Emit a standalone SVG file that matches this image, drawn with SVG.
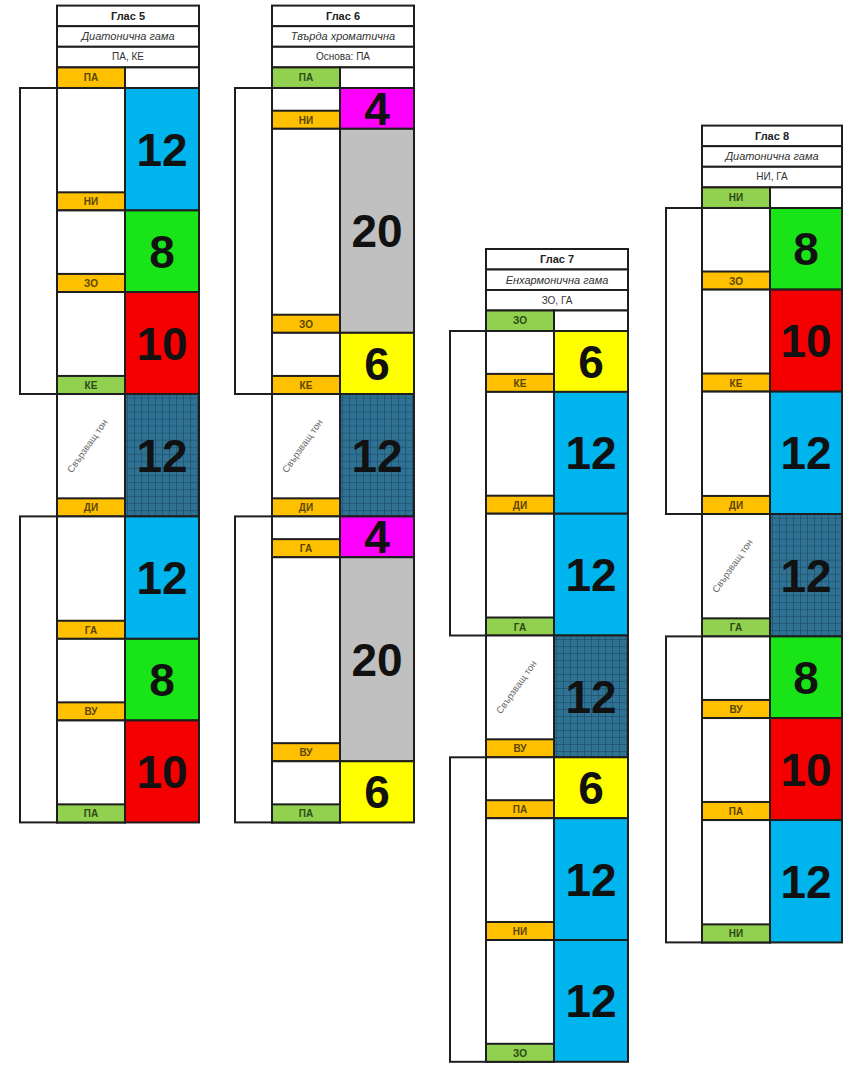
<svg xmlns="http://www.w3.org/2000/svg" width="851" height="1066" viewBox="0 0 851 1066">
<defs>
<pattern id="grid" width="7" height="7" patternUnits="userSpaceOnUse">
<rect width="7" height="7" fill="#2F7294" style="stroke:none"/>
<path d="M0 0.5H7M0.5 0V7" stroke="#1B4A64" stroke-opacity="0.75" stroke-width="0.8" fill="none"/>
</pattern>
<style>
rect{stroke:#1e1e1e;stroke-width:2}
.w{fill:#fff}
.lo{fill:#FFC000}
.lg{fill:#92D050}
.blue{fill:#00B4EE}
.green{fill:#18E418}
.red{fill:#F50000}
.mag{fill:#FF00FF}
.gray{fill:#C0C0C0}
.yel{fill:#FFFF00}
.dark{fill:url(#grid)}
text{font-family:"Liberation Sans",Arial,sans-serif;text-anchor:middle}
.h1{font-size:11px;font-weight:bold;fill:#222}
.h2{font-size:11px;font-style:italic;fill:#333}
.h3{font-size:10px;fill:#333}
.lt{font-size:10px;font-weight:bold;fill:#5a4600}
.ltg{font-size:10px;font-weight:bold;fill:#2d4a14}
.num{font-size:46px;font-weight:bold;fill:#111}
.rot{font-size:9.5px;fill:#666}
</style>
</defs>
<rect x="0" y="0" width="851" height="1066" fill="#fff" style="stroke:none"/>

<g id="connectors">
<rect class="w" x="20" y="88" width="37" height="306"/>
<rect class="w" x="20" y="516.4" width="37" height="306"/>
<rect class="w" x="235" y="88" width="37" height="306"/>
<rect class="w" x="235" y="516.4" width="37" height="306"/>
<rect class="w" x="450" y="331" width="36" height="304.5"/>
<rect class="w" x="450" y="757.3" width="36" height="304.5"/>
<rect class="w" x="666" y="208" width="36" height="306"/>
<rect class="w" x="666" y="636.4" width="36" height="306"/>
</g>

<!-- Column 1: Глас 5 -->
<g id="glas5" transform="translate(57,88) scale(1,1.005)">
<g id="glas5-header">
<rect class="w" x="0" y="-82" width="142" height="20.5"/><text class="h1" x="71" y="-68">Глас 5</text>
<rect class="w" x="0" y="-61.5" width="142" height="20.5"/><text class="h2" x="71" y="-47.5">Диатонична гама</text>
<rect class="w" x="0" y="-41" width="142" height="20.5"/><text class="h3" x="71" y="-27.5">ПА, КЕ</text>
<rect class="lo" x="0" y="-20.5" width="68" height="20.5"/><text class="lt" x="34" y="-7">ПА</text>
<rect class="w" x="68" y="-20.5" width="74" height="20.5"/>
</g>
<g id="glas5-s1"><rect class="w" x="0" y="0" width="68" height="121.8"/><rect class="blue" x="68" y="0" width="74" height="121.8"/><rect class="lo" x="0" y="103.8" width="68" height="18"/><text class="lt" x="34" y="116.8">НИ</text><text class="num" x="105" y="77.4">12</text></g>
<g id="glas5-s2"><rect class="w" x="0" y="121.8" width="68" height="81.2"/><rect class="green" x="68" y="121.8" width="74" height="81.2"/><rect class="lo" x="0" y="185" width="68" height="18"/><text class="lt" x="34" y="198">ЗО</text><text class="num" x="105" y="179">8</text></g>
<g id="glas5-s3"><rect class="w" x="0" y="203" width="68" height="101.5"/><rect class="red" x="68" y="203" width="74" height="101.5"/><rect class="lg" x="0" y="286.5" width="68" height="18"/><text class="ltg" x="34" y="299.5">КЕ</text><text class="num" x="105" y="270.2">10</text></g>
<g id="glas5-s4"><rect class="w" x="0" y="304.5" width="68" height="121.8"/><rect class="dark" x="68" y="304.5" width="74" height="121.8"/><rect class="lo" x="0" y="408.3" width="68" height="18"/><text class="lt" x="34" y="421.3">ДИ</text><text class="num" x="105" y="381.9">12</text><text class="rot" transform="translate(33,358) rotate(-55)">Свързващ тон</text></g>
<g id="glas5-s5"><rect class="w" x="0" y="426.3" width="68" height="121.8"/><rect class="blue" x="68" y="426.3" width="74" height="121.8"/><rect class="lo" x="0" y="530.1" width="68" height="18"/><text class="lt" x="34" y="543.1">ГА</text><text class="num" x="105" y="503.7">12</text></g>
<g id="glas5-s6"><rect class="w" x="0" y="548.1" width="68" height="81.2"/><rect class="green" x="68" y="548.1" width="74" height="81.2"/><rect class="lo" x="0" y="611.3" width="68" height="18"/><text class="lt" x="34" y="624.3">ВУ</text><text class="num" x="105" y="605.2">8</text></g>
<g id="glas5-s7"><rect class="w" x="0" y="629.3" width="68" height="101.5"/><rect class="red" x="68" y="629.3" width="74" height="101.5"/><rect class="lg" x="0" y="712.8" width="68" height="18"/><text class="ltg" x="34" y="725.8">ПА</text><text class="num" x="105" y="696.5">10</text></g>
</g>

<!-- Column 2: Глас 6 -->
<g id="glas6" transform="translate(272,88) scale(1,1.005)">
<g id="glas6-header">
<rect class="w" x="0" y="-82" width="142" height="20.5"/><text class="h1" x="71" y="-68">Глас 6</text>
<rect class="w" x="0" y="-61.5" width="142" height="20.5"/><text class="h2" x="71" y="-47.5">Твърда хроматична</text>
<rect class="w" x="0" y="-41" width="142" height="20.5"/><text class="h3" x="71" y="-27.5">Основа: ПА</text>
<rect class="lg" x="0" y="-20.5" width="68" height="20.5"/><text class="ltg" x="34" y="-7">ПА</text>
<rect class="w" x="68" y="-20.5" width="74" height="20.5"/>
</g>
<g id="glas6-s1"><rect class="w" x="0" y="0" width="68" height="40.6"/><rect class="mag" x="68" y="0" width="74" height="40.6"/><rect class="lo" x="0" y="22.6" width="68" height="18"/><text class="lt" x="34" y="35.6">НИ</text><text class="num" x="105" y="36.8">4</text></g>
<g id="glas6-s2"><rect class="w" x="0" y="40.6" width="68" height="203"/><rect class="gray" x="68" y="40.6" width="74" height="203"/><rect class="lo" x="0" y="225.6" width="68" height="18"/><text class="lt" x="34" y="238.6">ЗО</text><text class="num" x="105" y="158.6">20</text></g>
<g id="glas6-s3"><rect class="w" x="0" y="243.6" width="68" height="60.9"/><rect class="yel" x="68" y="243.6" width="74" height="60.9"/><rect class="lo" x="0" y="286.5" width="68" height="18"/><text class="lt" x="34" y="299.5">КЕ</text><text class="num" x="105" y="290.5">6</text></g>
<g id="glas6-s4"><rect class="w" x="0" y="304.5" width="68" height="121.8"/><rect class="dark" x="68" y="304.5" width="74" height="121.8"/><rect class="lo" x="0" y="408.3" width="68" height="18"/><text class="lt" x="34" y="421.3">ДИ</text><text class="num" x="105" y="381.9">12</text><text class="rot" transform="translate(33,358) rotate(-55)">Свързващ тон</text></g>
<g id="glas6-s5"><rect class="w" x="0" y="426.3" width="68" height="40.6"/><rect class="mag" x="68" y="426.3" width="74" height="40.6"/><rect class="lo" x="0" y="448.9" width="68" height="18"/><text class="lt" x="34" y="461.9">ГА</text><text class="num" x="105" y="463.1">4</text></g>
<g id="glas6-s6"><rect class="w" x="0" y="466.9" width="68" height="203"/><rect class="gray" x="68" y="466.9" width="74" height="203"/><rect class="lo" x="0" y="651.9" width="68" height="18"/><text class="lt" x="34" y="664.9">ВУ</text><text class="num" x="105" y="584.9">20</text></g>
<g id="glas6-s7"><rect class="w" x="0" y="669.9" width="68" height="60.9"/><rect class="yel" x="68" y="669.9" width="74" height="60.9"/><rect class="lg" x="0" y="712.8" width="68" height="18"/><text class="ltg" x="34" y="725.8">ПА</text><text class="num" x="105" y="716.8">6</text></g>
</g>

<!-- Column 3: Глас 7 -->
<g id="glas7" transform="translate(486,331)">
<g id="glas7-header">
<rect class="w" x="0" y="-82" width="142" height="20.5"/><text class="h1" x="71" y="-68">Глас 7</text>
<rect class="w" x="0" y="-61.5" width="142" height="20.5"/><text class="h2" x="71" y="-47.5">Енхармонична гама</text>
<rect class="w" x="0" y="-41" width="142" height="20.5"/><text class="h3" x="71" y="-27.5">ЗО, ГА</text>
<rect class="lg" x="0" y="-20.5" width="68" height="20.5"/><text class="ltg" x="34" y="-7">ЗО</text>
<rect class="w" x="68" y="-20.5" width="74" height="20.5"/>
</g>
<g id="glas7-s1"><rect class="w" x="0" y="0" width="68" height="60.9"/><rect class="yel" x="68" y="0" width="74" height="60.9"/><rect class="lo" x="0" y="42.9" width="68" height="18"/><text class="lt" x="34" y="55.9">КЕ</text><text class="num" x="105" y="46.9">6</text></g>
<g id="glas7-s2"><rect class="w" x="0" y="60.9" width="68" height="121.8"/><rect class="blue" x="68" y="60.9" width="74" height="121.8"/><rect class="lo" x="0" y="164.7" width="68" height="18"/><text class="lt" x="34" y="177.7">ДИ</text><text class="num" x="105" y="138.3">12</text></g>
<g id="glas7-s3"><rect class="w" x="0" y="182.7" width="68" height="121.8"/><rect class="blue" x="68" y="182.7" width="74" height="121.8"/><rect class="lg" x="0" y="286.5" width="68" height="18"/><text class="ltg" x="34" y="299.5">ГА</text><text class="num" x="105" y="260.1">12</text></g>
<g id="glas7-s4"><rect class="w" x="0" y="304.5" width="68" height="121.8"/><rect class="dark" x="68" y="304.5" width="74" height="121.8"/><rect class="lo" x="0" y="408.3" width="68" height="18"/><text class="lt" x="34" y="421.3">ВУ</text><text class="num" x="105" y="381.9">12</text><text class="rot" transform="translate(33,358) rotate(-55)">Свързващ тон</text></g>
<g id="glas7-s5"><rect class="w" x="0" y="426.3" width="68" height="60.9"/><rect class="yel" x="68" y="426.3" width="74" height="60.9"/><rect class="lo" x="0" y="469.2" width="68" height="18"/><text class="lt" x="34" y="482.2">ПА</text><text class="num" x="105" y="473.2">6</text></g>
<g id="glas7-s6"><rect class="w" x="0" y="487.2" width="68" height="121.8"/><rect class="blue" x="68" y="487.2" width="74" height="121.8"/><rect class="lo" x="0" y="591" width="68" height="18"/><text class="lt" x="34" y="604">НИ</text><text class="num" x="105" y="564.6">12</text></g>
<g id="glas7-s7"><rect class="w" x="0" y="609" width="68" height="121.8"/><rect class="blue" x="68" y="609" width="74" height="121.8"/><rect class="lg" x="0" y="712.8" width="68" height="18"/><text class="ltg" x="34" y="725.8">ЗО</text><text class="num" x="105" y="686.4">12</text></g>
</g>

<!-- Column 4: Глас 8 -->
<g id="glas8" transform="translate(702,208) scale(1,1.005)">
<g id="glas8-header">
<rect class="w" x="0" y="-82" width="140" height="20.5"/><text class="h1" x="70" y="-68">Глас 8</text>
<rect class="w" x="0" y="-61.5" width="140" height="20.5"/><text class="h2" x="70" y="-47.5">Диатонична гама</text>
<rect class="w" x="0" y="-41" width="140" height="20.5"/><text class="h3" x="70" y="-27.5">НИ, ГА</text>
<rect class="lg" x="0" y="-20.5" width="68" height="20.5"/><text class="ltg" x="34" y="-7">НИ</text>
<rect class="w" x="68" y="-20.5" width="72" height="20.5"/>
</g>
<g id="glas8-s1"><rect class="w" x="0" y="0" width="68" height="81.2"/><rect class="green" x="68" y="0" width="72" height="81.2"/><rect class="lo" x="0" y="63.2" width="68" height="18"/><text class="lt" x="34" y="76.2">ЗО</text><text class="num" x="104" y="57.1">8</text></g>
<g id="glas8-s2"><rect class="w" x="0" y="81.2" width="68" height="101.5"/><rect class="red" x="68" y="81.2" width="72" height="101.5"/><rect class="lo" x="0" y="164.7" width="68" height="18"/><text class="lt" x="34" y="177.7">КЕ</text><text class="num" x="104" y="148.4">10</text></g>
<g id="glas8-s3"><rect class="w" x="0" y="182.7" width="68" height="121.8"/><rect class="blue" x="68" y="182.7" width="72" height="121.8"/><rect class="lo" x="0" y="286.5" width="68" height="18"/><text class="lt" x="34" y="299.5">ДИ</text><text class="num" x="104" y="260.1">12</text></g>
<g id="glas8-s4"><rect class="w" x="0" y="304.5" width="68" height="121.8"/><rect class="dark" x="68" y="304.5" width="72" height="121.8"/><rect class="lg" x="0" y="408.3" width="68" height="18"/><text class="ltg" x="34" y="421.3">ГА</text><text class="num" x="104" y="381.9">12</text><text class="rot" transform="translate(33,358) rotate(-55)">Свързващ тон</text></g>
<g id="glas8-s5"><rect class="w" x="0" y="426.3" width="68" height="81.2"/><rect class="green" x="68" y="426.3" width="72" height="81.2"/><rect class="lo" x="0" y="489.5" width="68" height="18"/><text class="lt" x="34" y="502.5">ВУ</text><text class="num" x="104" y="483.4">8</text></g>
<g id="glas8-s6"><rect class="w" x="0" y="507.5" width="68" height="101.5"/><rect class="red" x="68" y="507.5" width="72" height="101.5"/><rect class="lo" x="0" y="591" width="68" height="18"/><text class="lt" x="34" y="604">ПА</text><text class="num" x="104" y="574.7">10</text></g>
<g id="glas8-s7"><rect class="w" x="0" y="609" width="68" height="121.8"/><rect class="blue" x="68" y="609" width="72" height="121.8"/><rect class="lg" x="0" y="712.8" width="68" height="18"/><text class="ltg" x="34" y="725.8">НИ</text><text class="num" x="104" y="686.4">12</text></g>
</g>
</svg>
